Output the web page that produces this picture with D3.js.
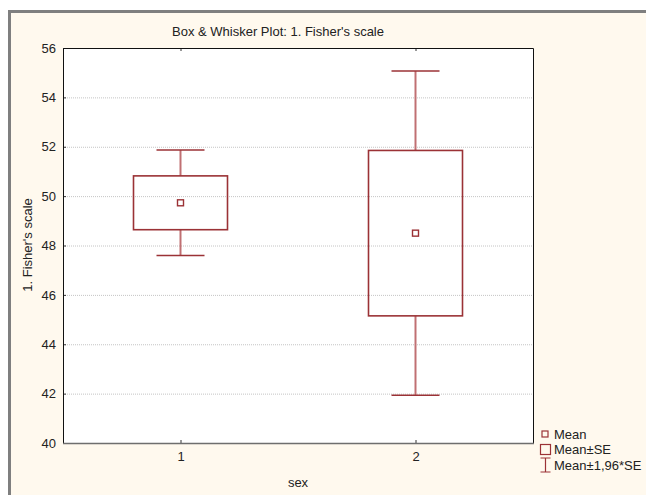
<!DOCTYPE html>
<html>
<head>
<meta charset="utf-8">
<script src="https://cdn.jsdelivr.net/npm/d3@7"></script>
<style>
  body { margin: 0; background: #fff; }
  text { font-family: "Liberation Sans", Arial, sans-serif; fill: #222; }
</style>
</head>
<body>
<svg id="chart"></svg>
<script>
const categories = ["1", "2"];
const means = [49.73, 48.5];
const stdErrors = [1.09, 3.35];
const yTicks = [40, 42, 44, 46, 48, 50, 52, 54, 56];
const legendLabels = ["Mean", "Mean±SE", "Mean±1,96*SE"];

const W = 646, H = 495;
const plot = { left: 63, top: 48, right: 533, bottom: 443 };
const red = "#9b3236";

const svg = d3.select("#chart").attr("width", W).attr("height", H);

// cream panel with grey frame
svg.append("rect").attr("width", W).attr("height", H).attr("fill", "#fff");
svg.append("rect").attr("x", 8).attr("y", 10).attr("width", W).attr("height", H)
  .attr("fill", "#7f7f7f");
svg.append("rect").attr("x", 11).attr("y", 13).attr("width", W).attr("height", H)
  .attr("fill", "#fff9ee");

const x = d3.scalePoint()
  .domain(categories)
  .range([plot.left, plot.right])
  .padding(0.5);

const y = d3.scaleLinear()
  .domain([40, 56])
  .range([plot.bottom, plot.top]);

svg.append("rect")
  .attr("x", plot.left).attr("y", plot.top)
  .attr("width", plot.right - plot.left).attr("height", plot.bottom - plot.top)
  .attr("fill", "#fff");

// grid
svg.append("g")
  .selectAll("line")
  .data(yTicks.slice(1, -1))
  .join("line")
    .attr("x1", plot.left).attr("x2", plot.right)
    .attr("y1", d => y(d) + 0.5).attr("y2", d => y(d) + 0.5)
    .attr("stroke", "#c4c4c4")
    .attr("stroke-dasharray", "1,1");

// axes
const yAxis = d3.axisLeft(y).tickValues(yTicks).tickSize(-3).tickPadding(7);
const gy = svg.append("g")
  .attr("transform", "translate(" + plot.left + ",0)")
  .call(yAxis);
gy.select(".domain").remove();
gy.selectAll(".tick line").attr("stroke", "#333");
gy.selectAll("text").attr("font-size", 13).attr("fill", "#222");

const xAxis = d3.axisBottom(x).tickSize(-3).tickPadding(9);
const gx = svg.append("g")
  .attr("transform", "translate(0," + plot.bottom + ")")
  .call(xAxis);
gx.select(".domain").remove();
gx.selectAll(".tick line").attr("stroke", "#333");
gx.selectAll("text").attr("font-size", 13).attr("fill", "#222");

const xTop = d3.axisTop(x).tickSize(-3).tickFormat("");
const gt = svg.append("g")
  .attr("transform", "translate(0," + plot.top + ")")
  .call(xTop);
gt.select(".domain").remove();
gt.selectAll(".tick line").attr("stroke", "#333");

// plot frame
svg.append("path")
  .attr("d", `M${plot.left + 0.5},${plot.bottom}V${plot.top + 0.5}H${plot.right + 0.5}V${plot.bottom}`)
  .attr("fill", "none").attr("stroke", "#111");
svg.append("line")
  .attr("x1", plot.left).attr("x2", plot.right + 1)
  .attr("y1", plot.bottom + 0.5).attr("y2", plot.bottom + 0.5)
  .attr("stroke", "#6e6e6e").attr("stroke-width", 1.5);

// boxes and whiskers
const boxW = 94, capW = 48, meanSize = 6;
const data = categories.map((c, i) => ({
  cat: c,
  mean: means[i],
  seLo: means[i] - stdErrors[i],
  seHi: means[i] + stdErrors[i],
  ciLo: means[i] - 1.96 * stdErrors[i],
  ciHi: means[i] + 1.96 * stdErrors[i]
}));

const g = svg.append("g")
  .selectAll("g")
  .data(data)
  .join("g")
    .attr("stroke", red)
    .attr("stroke-width", 1.6)
    .attr("fill", "none");

g.append("line")
  .attr("x1", d => x(d.cat)).attr("x2", d => x(d.cat))
  .attr("y1", d => y(d.ciHi)).attr("y2", d => y(d.seHi))
  .attr("stroke", "#c07073").attr("stroke-width", 2);
g.append("line")
  .attr("x1", d => x(d.cat)).attr("x2", d => x(d.cat))
  .attr("y1", d => y(d.seLo)).attr("y2", d => y(d.ciLo))
  .attr("stroke", "#c07073").attr("stroke-width", 2);
g.append("line")
  .attr("x1", d => x(d.cat) - capW / 2).attr("x2", d => x(d.cat) + capW / 2)
  .attr("y1", d => y(d.ciHi)).attr("y2", d => y(d.ciHi));
g.append("line")
  .attr("x1", d => x(d.cat) - capW / 2).attr("x2", d => x(d.cat) + capW / 2)
  .attr("y1", d => y(d.ciLo)).attr("y2", d => y(d.ciLo));
g.append("rect")
  .attr("x", d => x(d.cat) - boxW / 2)
  .attr("y", d => y(d.seHi))
  .attr("width", boxW)
  .attr("height", d => y(d.seLo) - y(d.seHi));
g.append("rect")
  .attr("x", d => x(d.cat) - meanSize / 2)
  .attr("y", d => y(d.mean) - meanSize / 2)
  .attr("width", meanSize).attr("height", meanSize)
  .attr("stroke-width", 1.4);

// titles
svg.append("text")
  .attr("x", 278).attr("y", 36)
  .attr("text-anchor", "middle").attr("font-size", 13)
  .text("Box & Whisker Plot: 1. Fisher's scale");
svg.append("text")
  .attr("transform", "translate(32,245) rotate(-90)")
  .attr("text-anchor", "middle").attr("font-size", 13)
  .text("1. Fisher's scale");
svg.append("text")
  .attr("x", 298).attr("y", 487)
  .attr("text-anchor", "middle").attr("font-size", 13)
  .text("sex");

// legend
const legend = svg.append("g")
  .selectAll("g")
  .data(legendLabels)
  .join("g")
    .attr("transform", (d, i) => "translate(540," + (434 + i * 15.5) + ")");
legend.append("text")
  .attr("x", 14).attr("dy", "0.35em").attr("font-size", 13)
  .text(d => d);
legend.filter((d, i) => i === 0).append("rect")
  .attr("x", 2).attr("y", -3).attr("width", 6).attr("height", 6)
  .attr("fill", "none").attr("stroke", red).attr("stroke-width", 1.2);
legend.filter((d, i) => i === 1).append("rect")
  .attr("x", 0.5).attr("y", -5).attr("width", 10).attr("height", 10)
  .attr("fill", "none").attr("stroke", red).attr("stroke-width", 1.2);
legend.filter((d, i) => i === 2).append("path")
  .attr("d", "M0.5,-7H10.5M5.5,-7V7M0.5,7H10.5")
  .attr("fill", "none").attr("stroke", red).attr("stroke-width", 1.2);
</script>
</body>
</html>
